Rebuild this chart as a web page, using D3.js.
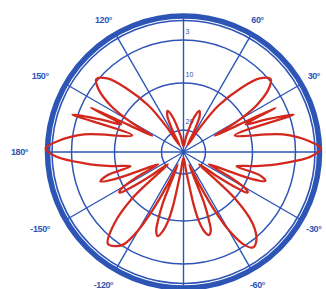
<!DOCTYPE html>
<html>
<head>
<meta charset="utf-8">
<title></title>
<style>body{margin:0;background:#fff}</style>
</head>
<body>
<svg width="326" height="289"></svg>
<script src="https://d3js.org/d3.v7.min.js"></script>
<script>

// radiation pattern: angle in degrees (0 = right, counter-clockwise),
// attenuation in dB below the peak (0 = outer ring)
var angles = [90, 80, 73, 69, 66, 63, 59, 56, 53, 48, 44, 40, 36.5, 32.5, 29.5, 27.5, 26.2, 25.6, 24, 21.5, 18.8, 18,
              10, 5, 1.5, -2, -6.5, -11, -15, -17, -19.5, -21.5, -23.5, -26, -28.5, -31, -32.5, -34, -36, -38,
              -42, -46, -50.5, -54, -57, -60, -62, -64, -66, -68, -69.5, -71, -73, -75.5, -77.5, -79, -82,
              -90, -98, -101, -102.5, -104.5, -107, -109, -110.5, -112, -114, -116, -118, -120, -123, -126, -129.5,
              -134, -138, -142, -144, -146, -147.5, -149, -151.5, -154, -156.5, -158.5, -160.5, -163, -165, -169,
              -173.5, -178, 178.5, 175, 170, 162, 161.4, 158.5, 156, 154.4, 153.8, 152.5, 150.5, 147.5, 143.5, 140,
              136, 132, 127, 124, 121, 117, 114, 111, 107, 100];
var gains  = [27.3, 22.7, 17.0, 15.3, 16.2, 19.6, 26.4, 18.3, 12.3, 7.2, 4.0, 2.8, 4.0, 7.2, 11.9, 17.2, 11.5, 4.6, 10.2, 6.9, 2.5, 13.2,
              4.8, 1.4, 0.1, 1.2, 5.0, 9.2, 13.0, 8.2, 7.1, 9.2, 15.7, 18.7, 13.0, 9.2, 8.9, 11.1, 16.2, 20.9,
              10.2, 5.0, 2.7, 2.3, 3.3, 6.6, 10.6, 17.2, 23.6, 13.0, 9.5, 7.6, 7.1, 8.0, 9.8, 13.0, 20.9,
              27.3, 20.9, 13.0, 9.8, 8.0, 6.9, 7.6, 9.5, 13.0, 23.6, 17.2, 10.6, 6.6, 3.3, 2.5, 2.2,
              5.0, 10.2, 20.9, 16.2, 11.1, 8.9, 9.2, 13.0, 18.7, 15.7, 9.2, 6.9, 8.2, 13.0, 9.2,
              5.0, 1.2, 0.0, 1.4, 4.8, 13.2, 2.4, 6.9, 10.2, 4.5, 11.5, 17.2, 11.9, 7.2, 4.0, 2.8,
              4.0, 7.2, 12.3, 18.3, 26.4, 19.6, 16.2, 15.3, 17.0, 22.7];

var ringValues = [3, 10, 20];
var ringLabels = ["3", "10", "20"];
var spokeAngles = [0, 30, 60, 90, 120, 150, 180, -150, -120, -90, -60, -30];
var labelAngles = [0, 30, 60, 120, 150, 180, -150, -120, -60, -30];
var labelTexts = ["0°", "30°", "60°", "120°", "150°", "180°", "-150°", "-120°", "-60°", "-30°"];

var blue = "#2d55b6", red = "#d3281d";

var svg = d3.select("svg"),
    cx = 183.5, cy = 152,
    g = svg.append("g").attr("transform", "translate(" + cx + "," + cy + ")");

var r = d3.scaleLinear()
    .domain([0, 3, 10, 20, 30])
    .range([138, 112, 69, 22, 0])
    .clamp(true);

var rad = function(a) { return a * Math.PI / 180; };
var outer = r(0) - 2;

// rings
g.selectAll(".ring")
  .data(ringValues)
  .enter().append("circle")
    .attr("r", function(d) { return r(d); })
    .attr("fill", "none")
    .attr("stroke", blue)
    .attr("stroke-width", 1.5);

// spokes
g.selectAll(".spoke")
  .data(spokeAngles)
  .enter().append("line")
    .attr("x1", 0).attr("y1", 0)
    .attr("x2", function(d) { return outer * Math.cos(rad(d)); })
    .attr("y2", function(d) { return -outer * Math.sin(rad(d)); })
    .attr("stroke", blue)
    .attr("stroke-width", 1.4);

g.append("circle")
    .attr("r", outer - 4.5)
    .attr("fill", "none")
    .attr("stroke", blue)
    .attr("stroke-width", 1.6);

g.append("circle")
    .attr("r", outer)
    .attr("fill", "none")
    .attr("stroke", blue)
    .attr("stroke-width", 5.5);

// ring labels
g.selectAll(".rlabel")
  .data(ringValues)
  .enter().append("text")
    .attr("x", 2)
    .attr("y", function(d) { return -r(d) - 6; })
    .attr("fill", blue)
    .attr("font-family", "Liberation Sans, Arial, sans-serif")
    .attr("font-size", 7)
    .text(function(d, i) { return ringLabels[i]; });

// angle labels
g.selectAll(".alabel")
  .data(labelAngles)
  .enter().append("text")
    .attr("x", function(d) {
      var c = Math.cos(rad(d));
      return 154 * c + (c < -0.7 ? -10 : c > 0.99 ? -8 : -3);
    })
    .attr("y", function(d) { return -153 * Math.sin(rad(d)); })
    .attr("dy", "0.35em")
    .attr("text-anchor", "middle")
    .attr("fill", blue)
    .attr("font-family", "Liberation Sans, Arial, sans-serif")
    .attr("font-weight", "bold")
    .attr("font-size", 9)
    .attr("letter-spacing", -0.4)
    .text(function(d, i) { return labelTexts[i]; });

// pattern
var data = angles.map(function(a, i) { return {a: a, g: gains[i]}; });

var line = d3.lineRadial()
    .angle(function(d) { return rad(90 - d.a); })
    .radius(function(d) { return r(d.g); })
    .curve(d3.curveCatmullRomClosed.alpha(0.5));

g.append("path")
    .datum(data)
    .attr("fill", "none")
    .attr("stroke", red)
    .attr("stroke-width", 2.3)
    .attr("stroke-linejoin", "round")
    .attr("d", line);

</script>
</body>
</html>
